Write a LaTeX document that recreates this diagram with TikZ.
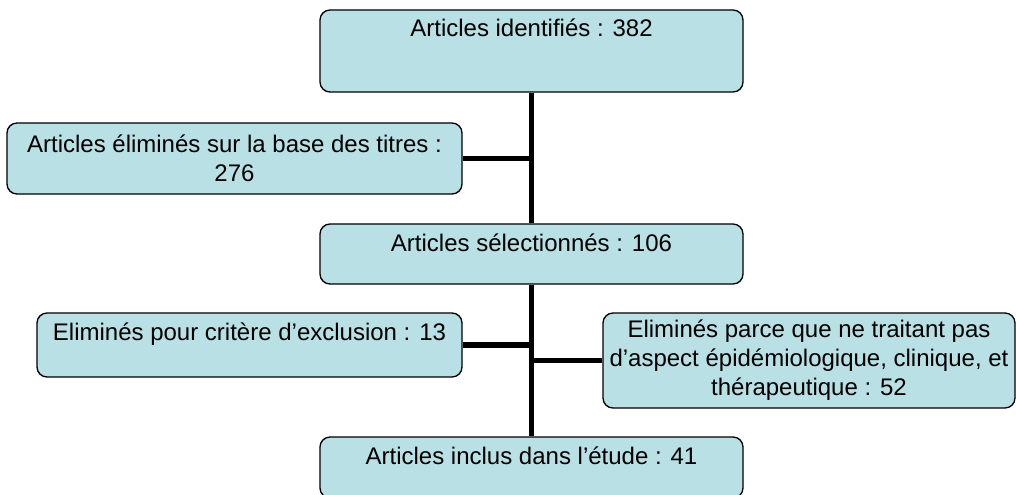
\documentclass[tikz,border=0pt]{standalone}
\usepackage{fontspec}
\setmainfont{Liberation Sans}
\usepackage{xcolor}
\definecolor{boite}{RGB}{185,224,228}

\begin{document}
\begin{tikzpicture}[x=0.75pt, y=-0.75pt,
    boite/.style={draw=black, fill=boite, line width=1pt, rounded corners=7.5pt,
        align=center, font=\fontsize{18}{21.75}\selectfont, inner xsep=0pt},
    haut/.style={inner ysep=0pt, text height=20.25pt, text depth=#1},
    trait/.style={line width=4pt}]
    \useasboundingbox (0,0) rectangle (1016,495);

    % Boites
    \node[boite, haut=41.25pt, minimum width=317.25pt] (ident) at (531.5,51) {Articles identifiés : 382};
    \node[boite, minimum width=341.25pt, minimum height=53.25pt] (titres) at (234.5,158.5)
        {Articles éliminés sur la base des titres :\\276};
    \node[boite, haut=24.75pt, minimum width=317.25pt] (select) at (531.5,254) {Articles sélectionnés : 106};
    \node[boite, haut=27.75pt, minimum width=318.75pt] (exclu) at (249.5,345) {Eliminés pour critère d’exclusion : 13};
    \node[boite, minimum width=309pt, minimum height=71.25pt] (aspect) at (809,360.5)
        {Eliminés parce que ne traitant pas\\d’aspect épidémiologique, clinique, et\\thérapeutique : 52};
    \node[boite, haut=25.5pt, minimum width=317.25pt] (inclus) at (531.5,467.5) {Articles inclus dans l’étude : 41};

    % Traits
    \draw[trait] (ident.south) -- (select.north);
    \draw[trait] (select.south) -- (inclus.north);
    \draw[trait] (titres.east) -- (titres.east -| ident.south);
    \draw[trait] (exclu.east) -- (exclu.east -| ident.south);
    \draw[trait] (aspect.west) -- (aspect.west -| ident.south);
\end{tikzpicture}
\end{document}
